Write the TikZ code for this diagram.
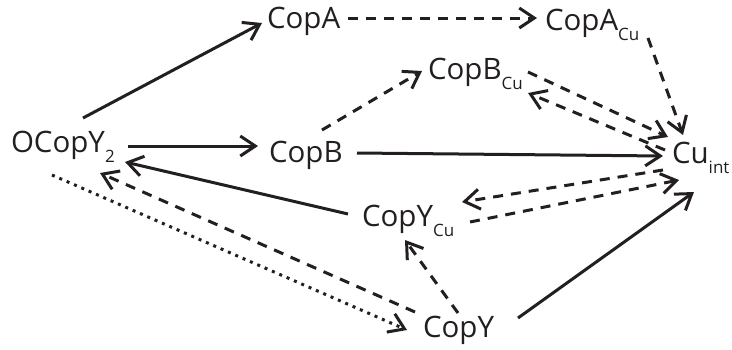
\documentclass[tikz,border=0pt]{standalone}
\usepackage{fontspec}
\setmainfont{Open Sans}
\usetikzlibrary{arrows.meta}
\definecolor{ink}{HTML}{231F20}
\newcommand\lowsub[1]{\raisebox{-10pt}{\fontsize{17}{17}\selectfont #1}}
\begin{document}
\begin{tikzpicture}[x=1pt,y=-1pt,
  lbl/.style={anchor=base west,inner sep=0pt,outer sep=0pt,text=ink,font=\fontsize{29.5}{30}\selectfont},
  conn/.style={draw=ink,line width=3pt,-{Straight Barb[length=15pt,width=20pt]}},
  solidarr/.style={conn},
  dasharr/.style={conn,dash pattern=on 10pt off 8pt},
  dotarr/.style={conn,dash pattern=on 3pt off 5pt}]
\useasboundingbox (0,0) rectangle (732,349);
\node[lbl] (ocopy) at (11,152) {OCopY\lowsub{2}};
\node[lbl] (copa) at (267,28) {CopA};
\node[lbl] (copacu) at (545,30) {CopA\lowsub{Cu}};
\node[lbl] (copbcu) at (428,79) {CopB\lowsub{Cu}};
\node[lbl] (copb) at (269,162) {CopB};
\node[lbl] (cuint) at (672,163) {Cu\lowsub{int}};
\node[lbl] (copycu) at (362,226) {CopY\lowsub{Cu}};
\node[lbl] (copy) at (423,337) {CopY};
% connectors
\draw[solidarr] ([shift={(72,-34)}]ocopy.base west) -- ([shift={(-5,-5)}]copa.base west);
\draw[dasharr] ([shift={(81,-10)}]copa.base west) -- ([shift={(-8,-12)}]copacu.base west);
\draw[solidarr] ([shift={(117,-6)}]ocopy.base west) -- ([shift={(-11,-16)}]copb.base west);
\draw[solidarr] ([shift={(88,-9)}]copb.base west) -- ([shift={(-9,-7)}]cuint.base west);
\draw[dasharr] ([shift={(53,-32)}]copb.base west) -- ([shift={(-6,-8)}]copbcu.base west);
\draw[dasharr] ([shift={(100,-7)}]copbcu.base west) -- ([shift={(-4,-26)}]cuint.base west);
\draw[dasharr] ([shift={(-7,-13)}]cuint.base west) -- ([shift={(100,14)}]copbcu.base west);
\draw[dasharr] ([shift={(103,8)}]copacu.base west) -- ([shift={(11,-28)}]cuint.base west);
\draw[solidarr] ([shift={(-14,-12)}]copycu.base west) -- ([shift={(114,10)}]ocopy.base west);
\draw[dasharr] ([shift={(-9,7)}]cuint.base west) -- ([shift={(100,-24)}]copycu.base west);
\draw[dasharr] ([shift={(108,-4)}]copycu.base west) -- ([shift={(7,17)}]cuint.base west);
\draw[dasharr] ([shift={(-8,-25)}]copy.base west) -- ([shift={(89,21)}]ocopy.base west);
\draw[dotarr] ([shift={(41,23)}]ocopy.base west) -- ([shift={(-16,-7)}]copy.base west);
\draw[dasharr] ([shift={(35,-24)}]copy.base west) -- ([shift={(43,14)}]copycu.base west);
\draw[solidarr] ([shift={(95,-19)}]copy.base west) -- ([shift={(22,29)}]cuint.base west);
\end{tikzpicture}
\end{document}
